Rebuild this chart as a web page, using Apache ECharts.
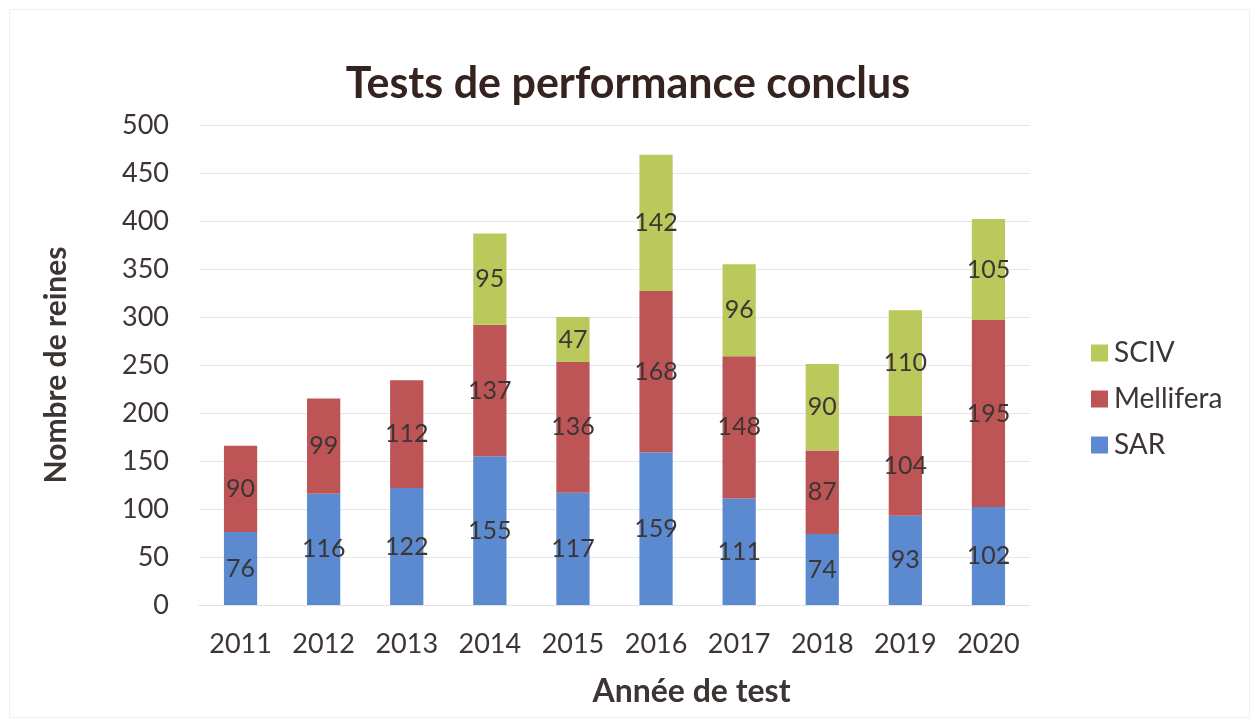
<!DOCTYPE html>
<html>
<head>
<meta charset="utf-8">
<script src="https://cdn.jsdelivr.net/npm/echarts@6/dist/echarts.min.js"></script>
<style>
  html, body { margin: 0; padding: 0; background: #fff; }
  #chart { width: 1256px; height: 722px; }
</style>
</head>
<body>
<div id="chart"></div>
<script>
// données
const years = ['2011', '2012', '2013', '2014', '2015', '2016', '2017', '2018', '2019', '2020']
const sar = [76, 116, 122, 155, 117, 159, 111, 74, 93, 102]
const mellifera = [90, 99, 112, 137, 136, 168, 148, 87, 104, 195]
const sciv = [null, null, null, 95, 47, 142, 96, 90, 110, 105]
const yTicks = [0, 500, 50] // min, max, interval

const textColor = '#3d3533'
const font = 'Lato, "Open Sans", sans-serif'

let myChart = echarts.init(document.getElementById('chart'))

// étiquette au centre du segment
const segLabel = {
  show: true,
  position: 'inside',
  color: textColor,
  fontSize: 25,
  fontFamily: font
}

let option = {
  animation: false,
  backgroundColor: '#fff',
  textStyle: { fontFamily: font, color: textColor },
  // cadre léger autour du graphique
  graphic: [{
    type: 'rect',
    left: 7, top: 7,
    shape: { width: 1240, height: 708 },
    style: { fill: 'none', stroke: '#efefef', lineWidth: 1 },
    silent: true
  }],
  title: {
    text: 'Tests de performance conclus',
    left: 'center',
    top: 58,
    textStyle: { fontSize: 43, fontWeight: 'bold', color: '#35231f', fontFamily: font }
  },
  legend: {
    orient: 'vertical',
    left: 1086,
    top: 334,
    itemWidth: 17,
    itemHeight: 17,
    itemGap: 18,
    icon: 'rect',
    data: ['SCIV', 'Mellifera', 'SAR'],
    textStyle: { fontSize: 28, color: textColor, fontFamily: font, padding: [0, 0, 0, 1] }
  },
  grid: {
    left: 199,
    right: 226,
    top: 125,
    bottom: 117
  },
  xAxis: {
    type: 'category',
    data: years,
    name: 'Année de test',
    nameLocation: 'middle',
    nameGap: 71,
    nameTextStyle: { fontSize: 32, fontWeight: 'bold', color: textColor, padding: [0, 0, 0, 154] },
    axisLine: { lineStyle: { color: '#e2e2e2' } },
    axisTick: { show: false },
    axisLabel: { fontSize: 27, color: textColor, margin: 26 }
  },
  yAxis: {
    type: 'value',
    min: yTicks[0],
    max: yTicks[1],
    interval: yTicks[2],
    name: 'Nombre de reines',
    nameLocation: 'middle',
    nameGap: 128,
    nameTextStyle: { fontSize: 30, fontWeight: 'bold', color: textColor },
    axisLine: { show: false },
    axisTick: { show: false },
    axisLabel: { fontSize: 27, color: textColor, margin: 30 },
    splitLine: { lineStyle: { color: '#e6e6e6' } }
  },
  series: [
    {
      name: 'SAR',
      type: 'bar',
      stack: 'total',
      barWidth: '40%',
      itemStyle: { color: '#5b8ad0' },
      label: segLabel,
      data: sar
    },
    {
      name: 'Mellifera',
      type: 'bar',
      stack: 'total',
      itemStyle: { color: '#bd5456' },
      label: segLabel,
      data: mellifera
    },
    {
      name: 'SCIV',
      type: 'bar',
      stack: 'total',
      itemStyle: { color: '#bac85c' },
      label: segLabel,
      data: sciv
    }
  ]
}
myChart.setOption(option)
</script>
</body>
</html>
